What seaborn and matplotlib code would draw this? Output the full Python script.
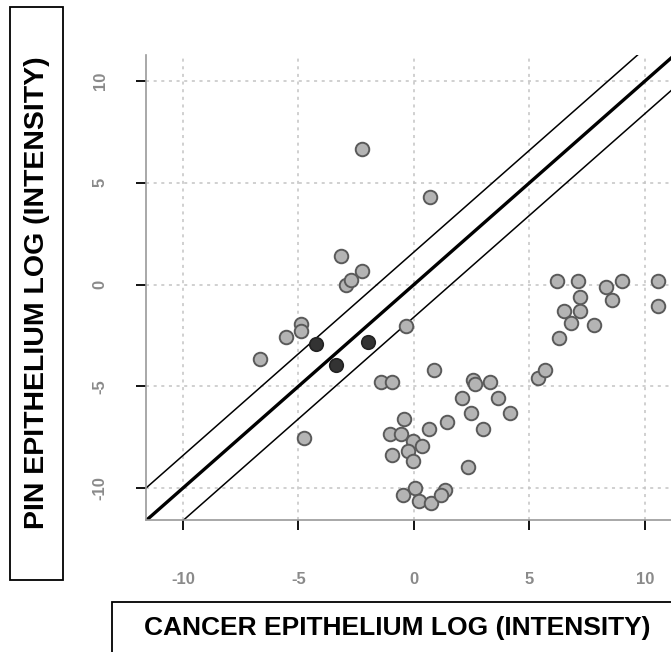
import matplotlib
matplotlib.use("Agg")
import matplotlib.pyplot as plt
import seaborn as sns
import pandas as pd
import numpy as np
from matplotlib.patches import Rectangle

# ---- data ----
gray_x = [-2.23, 0.71, -3.14, -2.23, -2.96, -2.74, -4.91, -4.91, -5.52, -6.65,
          -0.33, 0.88, -1.41, -0.96, -4.74, -0.41, -1.03, -0.57, 0.65, 1.41,
          -0.04, 0.35, -0.26, -0.94, -0.03, 2.32, 0.03, 1.35, -0.49, 0.20,
          0.72, 1.19, 2.57, 2.65, 3.30, 3.64, 2.09, 2.46, 3.01, 4.17,
          5.38, 5.67, 6.27, 6.20, 7.10, 7.17, 6.51, 7.17, 6.80, 7.81,
          8.33, 9.01, 8.58, 10.55, 10.55]
gray_y = [6.68, 4.28, 1.39, 0.69, 0.00, 0.20, -1.96, -2.29, -2.58, -3.68,
          -2.06, -4.18, -4.80, -4.80, -7.53, -6.59, -7.35, -7.35, -7.10, -6.76,
          -7.70, -7.95, -8.20, -8.40, -8.65, -8.99, -10.00, -10.10, -10.36, -10.62,
          -10.72, -10.36, -4.70, -4.90, -4.80, -5.57, -5.57, -6.32, -7.10, -6.32,
          -4.61, -4.22, -2.65, 0.16, 0.16, -0.62, -1.29, -1.29, -1.90, -1.98,
          -0.10, 0.16, -0.78, 0.16, -1.03]
dark_x = [-4.22, -3.39, -2.01]
dark_y = [-2.94, -3.97, -2.83]

ticks = [-10, -5, 0, 5, 10]
tick_labels = ["-10", "-5", "0", "5", "10"]
band = 1.6  # offset of the thin lines from the identity line

x_title = "CANCER EPITHELIUM LOG (INTENSITY)"
y_title = "PIN EPITHELIUM LOG (INTENSITY)"

df = pd.DataFrame({
    "x": gray_x + dark_x,
    "y": gray_y + dark_y,
    "grp": ["other"] * len(gray_x) + ["sel"] * len(dark_x),
})

sns.set_style("white")
plt.rcParams["font.family"] = ["Liberation Sans", "DejaVu Sans"]

W, H = 671, 652
fig = plt.figure(figsize=(W / 100, H / 100), dpi=100)
ax = fig.add_axes([146 / W, (H - 520) / H, (675 - 146) / W, (520 - 55) / H])

xlim = (-11.60, 11.30)
ylim = (-11.57, 11.28)
ax.set_xlim(*xlim)
ax.set_ylim(*ylim)

# grid
for t in ticks:
    ax.axvline(t, color="#c4c4c4", lw=1.1, ls=(0, (2, 3)), zorder=0)
    ax.axhline(t, color="#c4c4c4", lw=1.1, ls=(0, (2, 3)), zorder=0)

# lines
xx = np.array([-20, 20])
ax.plot(xx, xx, color="black", lw=2.4, zorder=2)
ax.plot(xx, xx + band, color="black", lw=1.1, zorder=2)
ax.plot(xx, xx - band, color="black", lw=1.1, zorder=2)

sns.scatterplot(data=df[df.grp == "other"], x="x", y="y", ax=ax, s=95,
                color="#b4b4b4", edgecolor="#5a5a5a", linewidth=1.4, zorder=3, legend=False)
sns.scatterplot(data=df[df.grp == "sel"], x="x", y="y", ax=ax, s=95,
                color="#333333", edgecolor="#222222", linewidth=1.2, zorder=4, legend=False)

ax.set_xlabel("")
ax.set_ylabel("")

for s in ["top", "right"]:
    ax.spines[s].set_visible(False)
for s in ["left", "bottom"]:
    ax.spines[s].set_color("#9a9a9a")
    ax.spines[s].set_linewidth(1.2)

ax.set_xticks(ticks)
ax.set_xticklabels(tick_labels)
ax.set_yticks(ticks)
ax.set_yticklabels(tick_labels, rotation=90, va="center")
ax.tick_params(axis="both", direction="out", length=7.5, width=1.4, color="#111111",
               labelsize=12, labelcolor="#8a8a8a", bottom=True, left=True)
ax.tick_params(axis="x", pad=30)
ax.tick_params(axis="y", pad=20)
for lab in ax.get_xticklabels() + ax.get_yticklabels():
    lab.set_fontweight("bold")

# axis title boxes
fig.patches.append(Rectangle((10 / W, (H - 580) / H), 53 / W, 573 / H,
                             transform=fig.transFigure, fill=False, ec="black", lw=1.3))
fig.patches.append(Rectangle((112 / W, (H - 680) / H), 600 / W, 78 / H,
                             transform=fig.transFigure, fill=False, ec="black", lw=1.3,
                             clip_on=False))
fig.text(37 / W, 1 - 293 / H, y_title, rotation=90, ha="center", va="center",
         fontsize=20.5, fontweight="bold", color="black")
fig.text(397 / W, 1 - 628 / H, x_title, ha="center", va="center",
         fontsize=19, fontweight="bold", color="black")

fig.savefig("out.png", dpi=100)
